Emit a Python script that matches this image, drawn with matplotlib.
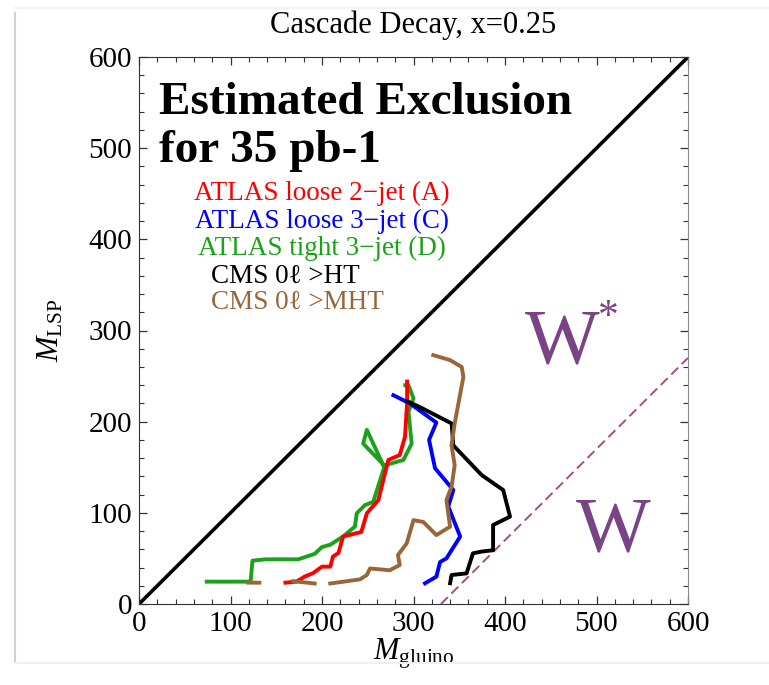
import matplotlib
matplotlib.use('Agg')
import matplotlib.pyplot as plt     # for plotting
import numpy as np                  # for nan gaps
from matplotlib.lines import Line2D

# exclusion curves (M_gluino, M_LSP)
red_x = [160, 172, 181, 190.5, 200, 209, 212, 218, 223, 243, 249, 261.6, 272.5, 285, 290.7, 293, 293]
red_y = [23.4, 24.5, 30, 34, 41, 41, 52, 56, 74, 79, 99.5, 114, 158, 163.4, 183.5, 220, 244]

blue_x = [312.6, 325, 329, 336, 351, 338, 343.5, 323.5, 317, 325, 296, 278]
blue_y = [22.7, 30, 46, 50, 74, 107, 125, 149, 180, 199, 220, 229]

green_x = [74, 122, 124, 138, 174, 192, 200, 209, 223, 236, 238, 247, 256, 268,
           249, 245, 268, 289, 298, 294.5, 300, 294.5, 291]
green_y = [24.5, 24.5, 47.5, 49, 49, 55, 62.5, 65, 74, 85, 99.5, 108.5, 112, 150,
           191, 176, 152, 158, 176, 211, 225.5, 240, 240]

black_x = [340, 341.6, 358, 365, 374.5, 387, 387, 405.5, 398, 374.5, 343.5, 341.7, 307, 294]
black_y = [22.7, 31.8, 33.6, 55.6, 57.5, 59, 86.6, 95.8, 125, 141.4, 174, 198, 216, 222]

# brown curve has two gaps near the bottom
brown_x = [119.5, 131.5, np.nan, 168.7, 192, np.nan, 209, 241.5, 249, 252.5, 274, 285, 283, 292.6,
           300, 310.7, 325, 340, 336, 341.6, 345, 341.6, 345, 354.5, 352.7, 340, 321.6]
brown_y = [23.4, 23.4, np.nan, 25, 22.5, np.nan, 22.5, 27, 31.8, 39, 37, 42.8, 53.7, 66.5,
           92, 90, 75.6, 84.8, 114, 128.6, 152.4, 174, 198, 249, 260, 267.5, 273]

# diagonal M_LSP = M_gluino and the W threshold line
diag_x = [0, 600]
diag_y = [0, 600]
wline_x = [330, 600]
wline_y = [0, 270]

labels = ["ATLAS loose 2\u2212jet (A)", "ATLAS loose 3\u2212jet (C)",
          "ATLAS tight 3\u2212jet (D)", "CMS 0\u2113 >HT", "CMS 0\u2113 >MHT"]
label_x = [200, 200, 200, 160, 173]
label_y = [443, 412, 383, 352, 323.5]

red = '#ff0000'
blue = '#0000ff'
green = '#1aa31a'
brown = '#99663a'
purple = '#7a4385'
colors = [red, blue, green, 'black', brown]

plt.rcParams['font.family'] = ['Liberation Serif', 'DejaVu Serif']
plt.rcParams['mathtext.fontset'] = 'custom'
plt.rcParams['mathtext.rm'] = 'Liberation Serif'
plt.rcParams['mathtext.it'] = 'Liberation Serif:italic'

fig = plt.figure(figsize=(7.69, 6.85), dpi=100)
ax = fig.add_axes([139/769, 81/685, 549/769, 547/685])

lw = 2.8
ax.plot(diag_x, diag_y, color='black', lw=2.6, solid_capstyle='butt')
ax.plot(wline_x, wline_y, color='#a04f88', lw=1.4, dashes=(5, 2.6))
ax.plot(green_x, green_y, color=green, lw=lw)
ax.plot(red_x, red_y, color=red, lw=lw)
ax.plot(blue_x, blue_y, color=blue, lw=lw)
ax.plot(black_x, black_y, color='black', lw=lw)
ax.plot(brown_x, brown_y, color=brown, lw=lw)

ax.set_xlim(0, 600)
ax.set_ylim(0, 600)

# ticks inside on all four sides
ax.set_xticks(range(0, 601, 100))
ax.set_yticks(range(0, 601, 100))
ax.set_xticks(range(0, 601, 20), minor=True)
ax.set_yticks(range(0, 601, 20), minor=True)
ax.tick_params(which='both', direction='in', top=True, right=True, labelsize=21, color='#333333')
ax.tick_params(which='major', length=6, width=0.9, pad=5)
ax.tick_params(which='minor', length=3.5, width=0.8)
for s in ['left', 'bottom', 'top']:
    ax.spines[s].set_color('#333333')
ax.spines['right'].set_color('#888888')

ax.set_xlabel(r'$M_{\rm gluino}$', fontsize=22)
ax.set_ylabel(r'$M_{\rm LSP}$', fontsize=22)
ax.xaxis.set_label_coords(0.5, -0.060)
ax.yaxis.set_label_coords(-0.133, 0.5)
ax.set_title('Cascade Decay, x=0.25', fontsize=22, pad=17)

# big headline
ax.text(22, 538, 'Estimated Exclusion', fontsize=34, fontweight='bold', va='baseline')
ax.text(22, 485, 'for 35 pb-1', fontsize=34, fontweight='bold', va='baseline')

# legend as coloured text lines
for t, x, y, c in zip(labels, label_x, label_y, colors):
    ax.text(x, y, t, color=c, fontsize=19.5, ha='center', va='baseline')

ax.text(463, 265, 'W', color=purple, fontsize=57, ha='center', va='baseline')
ax.text(512.6, 313.6, '*', color=purple, fontsize=30, ha='center', va='center')
ax.text(518, 59, 'W', color=purple, fontsize=57, ha='center', va='baseline')

# light panel border like the original
fig.add_artist(Line2D([15/769, 15/769], [1-13/685, 1-663/685], color='#d0d0d0', lw=1.5))
fig.add_artist(Line2D([15/769, 1], [1-663/685, 1-663/685], color='#f0f0f0', lw=1.5))
fig.add_artist(Line2D([15/769, 1], [1-8/685, 1-8/685], color='#f2f2f2', lw=1.5))

fig.savefig('out.png', dpi=100)
plt.close('all')
